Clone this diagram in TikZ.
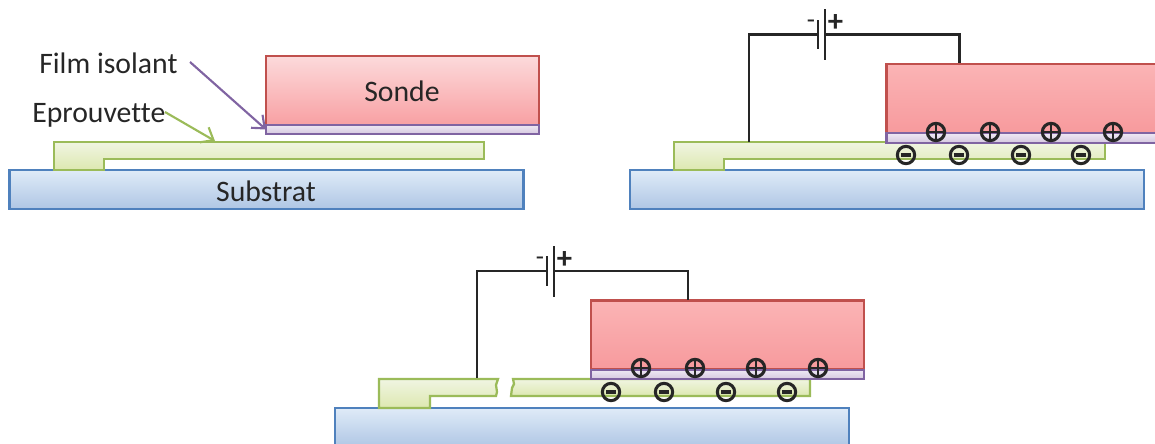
\documentclass[tikz,border=0pt]{standalone}
\usepackage{fontspec}
\setmainfont{Carlito}[Ligatures=NoCommon]
\usetikzlibrary{arrows.meta,calc}
\definecolor{txt}{HTML}{262626}
\definecolor{redl}{HTML}{C0504D}
\definecolor{purl}{HTML}{8064A2}
\definecolor{blul}{HTML}{4F81BD}
\definecolor{grnl}{HTML}{9BBB59}
\definecolor{FBB4B5}{HTML}{FBB4B5}
\definecolor{F79A9D}{HTML}{F79A9D}
\definecolor{EEE8F3}{HTML}{EEE8F3}
\definecolor{D5C8E0}{HTML}{D5C8E0}
\definecolor{DFEBF8}{HTML}{DFEBF8}
\definecolor{AFC6E4}{HTML}{AFC6E4}
\definecolor{F0F5E2}{HTML}{F0F5E2}
\definecolor{DDE8B0}{HTML}{DDE8B0}
\definecolor{FCDADB}{HTML}{FCDADB}
\definecolor{F8A0A3}{HTML}{F8A0A3}
\tikzset{
  x=0.75pt,y=-0.75pt,
  lbl/.style={text=txt,font=\fontsize{22.3}{26}\selectfont,inner sep=0pt},
  boxn/.style={inner sep=0pt,outer sep=0pt,line width=1.7pt},
  sondeA/.style={boxn,draw=redl,top color=FCDADB,bottom color=F8A0A3,minimum width=204.75pt,minimum height=51.75pt},
  sondeB/.style={boxn,draw=redl,top color=FBB4B5,bottom color=F79A9D,minimum width=204.75pt,minimum height=51.75pt},
  filmb/.style={boxn,draw=purl,top color=EEE8F3,bottom color=D5C8E0,minimum width=204.75pt,minimum height=7pt},
  subs/.style={boxn,draw=blul,top color=DFEBF8,bottom color=AFC6E4,minimum width=385.5pt,minimum height=29.25pt},
  epr/.style={draw=grnl,line width=1.7pt,top color=F0F5E2,bottom color=DDE8B0},
  wire/.style={draw=txt,line width=1.7pt},
  plate/.style={draw=txt,line width=1.7pt},
  chg/.style={circle,draw=txt,line width=2.3pt,minimum size=13pt,inner sep=0pt},
  plusc/.style={chg,path picture={\draw[txt,line width=1.3pt] (path picture bounding box.west)--(path picture bounding box.east) (path picture bounding box.north)--(path picture bounding box.south);}},
  minusc/.style={chg,path picture={\draw[txt,line width=2.3pt] ($(path picture bounding box.west)!.2!(path picture bounding box.east)$)--($(path picture bounding box.west)!.8!(path picture bounding box.east)$);}},
  sign/.style={text=txt,inner sep=0pt,font=\fontsize{23}{26}\selectfont\bfseries},
  signm/.style={text=txt,inner sep=0pt,font=\fontsize{20}{24}\selectfont},
  callP/.style={draw=purl,line width=1.6pt,-{Straight Barb[length=8pt,width=13pt,line width=1.6pt]}},
  callG/.style={draw=grnl,line width=1.6pt,-{Straight Barb[length=8pt,width=13pt,line width=1.6pt]}},
}
\begin{document}
\begin{tikzpicture}
\clip (0,0) rectangle (1155,443);
% panel 1
\node[subs] (sub1) at (266.5,189.5) {};
\node[lbl] (sub1t) at (266,191) {Substrat};
\draw[epr] (54,142)--(484,142)--(484,159)--(104,159)--(104,170)--(54,170)--cycle;
\node[sondeA] (son1) at (402.5,90.5) {};
\node[lbl] (son1t) at (402,91) {Sonde};
\node[filmb] (film1) at (402.5,129.5) {};
\node[lbl,anchor=west] (lf) at (39,63) {Film isolant};
\node[lbl,anchor=west] (le) at (32,115) {Eprouvette};
\coordinate (lfa) at (190,62);
\coordinate (lea) at (165,112);
\coordinate (ept) at (215,141);
\draw[callP] (lfa)--(film1.west);
\draw[callG] (lea)--(ept);
% panel 2
\node[subs] (sub2) at (887,189.5) {};
\draw[epr] (674,142)--(1105,142)--(1105,159)--(724,159)--(724,170)--(674,170)--cycle;
\node[sondeB] (son2) at (1023,98.5) {};
\node[filmb] (film2) at (1023,138) {};
\coordinate (w2a) at (749,142);
\coordinate (w2b) at (749,34.5);
\coordinate (p2a) at (818,34.5);
\coordinate (p2b) at (825,34.5);
\coordinate (w2c) at (959.5,34.5);
\coordinate (w2d) at (959.5,63);
\draw[wire] (w2a)--(w2b)--(p2a);
\draw[wire] (p2b)--(w2c)--(w2d);
\draw[plate] (818,20)--(p2a)--(818,49);
\draw[plate] (825,9)--(p2b)--(825,60);
\node[signm] (m2) at (811,24) {-};
\node[sign] (pl2) at (835.5,23.5) {+};
\foreach \n/\x in {a/936,b/990,c/1051,d/1113}{\node[plusc] (pp\n) at (\x,132) {};}
\foreach \n/\x in {a/906,b/959,c/1021,d/1081}{\node[minusc] (pm\n) at (\x,155) {};}
% panel 3
\node[subs] (sub3) at (592,427.5) {};
\draw[epr] (379,379)--(498,379)--(496,385)--(497,392)--(496,396)--(430,396)--(430,408)--(379,408)--cycle;
\draw[epr] (513,379)--(810,379)--(810,396)--(511,396)--(512,388)--(514,384)--cycle;
\node[sondeB] (son3) at (727.5,335) {};
\node[filmb] (film3) at (727.5,374.5) {};
\coordinate (w3a) at (477,378);
\coordinate (w3b) at (477,271);
\coordinate (p3a) at (547,271);
\coordinate (p3b) at (554,271);
\coordinate (w3c) at (688,271);
\coordinate (w3d) at (688,300);
\draw[wire] (w3a)--(w3b)--(p3a);
\draw[wire] (p3b)--(w3c)--(w3d);
\draw[plate] (547,256)--(p3a)--(547,286);
\draw[plate] (554,246)--(p3b)--(554,297);
\node[signm] (m3) at (540,261) {-};
\node[sign] (pl3) at (564.5,260) {+};
\foreach \n/\x in {a/641,b/695,c/756,d/818}{\node[plusc] (qp\n) at (\x,368) {};}
\foreach \n/\x in {a/611,b/664,c/726,d/787}{\node[minusc] (qm\n) at (\x,392) {};}
\end{tikzpicture}
\end{document}
